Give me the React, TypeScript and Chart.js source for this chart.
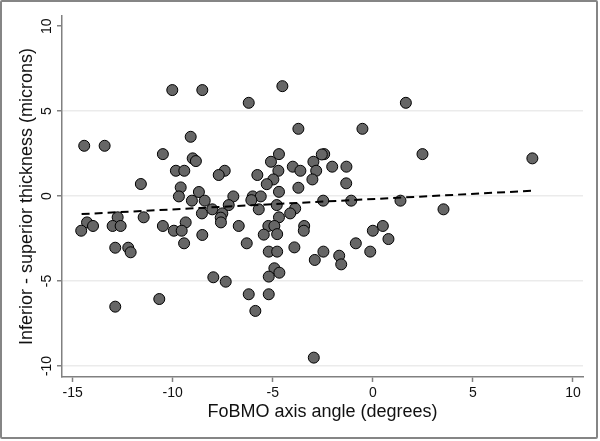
import React, { useEffect, useRef } from "react";
import { Chart, registerables } from "chart.js";

Chart.register(...registerables);

const xValues = [
  -10.02, -8.52, -4.52, -6.2, 1.65, -3.72, -0.52, -9.1, -14.42, -13.4,
  -10.49, 2.48, -4.69, -2.43, -2.55, -9.0, -8.84, 7.97, -5.09, -2.97,
  -4.0, -2.03, -1.32, -9.84, -9.42, -7.4, -4.72, -3.62, -2.83, -7.7,
  -5.77, -4.97, -3.02, -11.59, -5.3, -1.33, -9.6, -3.72, -8.69, -4.69,
  -9.69, -6.97, -6.0, -5.6, -9.04, -8.4, -6.07, -2.48, -1.08, 1.38,
  -7.2, -4.8, -3.88, -8.02, -5.7, 3.53, -8.54, -7.52, -4.13, -12.75,
  -11.45, -7.6, -4.69, -14.28, -9.35, -7.59, -13.98, -13.0, -12.6, -10.49,
  -6.7, -5.22, -4.92, -3.43, 0.5, -14.57, -9.94, -9.55, -3.45, 0.0,
  -8.52, -5.45, -4.78, 0.78, -9.43, -6.3, -0.85, -12.87, -12.22, -3.92,
  -12.1, -5.2, -4.78, -2.47, -0.13, -1.68, -2.9, -1.58, -4.92, -4.67,
  -5.2, -7.97, -7.35, -6.2, -5.2, -10.67, -12.87, -5.87, -2.95,
];

const yValues = [
  6.24, 6.24, 6.47, 5.49, 5.49, 3.96, 3.96, 3.49, 2.96, 2.96,
  2.47, 2.47, 2.47, 2.47, 2.45, 2.22, 2.06, 2.22, 2.02, 2.02,
  1.73, 1.73, 1.73, 1.49, 1.49, 1.49, 1.49, 1.49, 1.49, 1.24,
  1.24, 0.98, 0.98, 0.71, 0.7, 0.75, 0.51, 0.49, 0.24, 0.25,
  -0.02, -0.02, -0.02, -0.02, -0.27, -0.27, -0.24, -0.27, -0.27, -0.27,
  -0.53, -0.53, -0.73, -0.78, -0.78, -0.78, -1.02, -1.02, -1.02, -1.25,
  -1.25, -1.27, -1.25, -1.55, -1.55, -1.55, -1.76, -1.76, -1.76, -1.76,
  -1.76, -1.76, -1.76, -1.76, -1.76, -2.04, -2.04, -2.04, -2.04, -2.04,
  -2.29, -2.27, -2.24, -2.53, -2.78, -2.78, -2.78, -3.04, -3.04, -3.02,
  -3.31, -3.27, -3.27, -3.27, -3.27, -3.51, -3.76, -4.02, -4.25, -4.51,
  -4.74, -4.78, -5.04, -5.78, -5.78, -6.06, -6.51, -6.76, -9.51,
];

const fitX = [-14.55, 7.95];
const fitY = [-1.06, 0.31];

const xTicks = [-15, -10, -5, 0, 5, 10];
const yTicks = [-10, -5, 0, 5, 10];

const xTitle = "FoBMO axis angle (degrees)";
const yTitle = "Inferior - superior thickness (microns)";

export default function App() {
  const canvasRef = useRef<HTMLCanvasElement | null>(null);

  useEffect(() => {
    const canvas = canvasRef.current;
    if (!canvas) return;
    const points = xValues.map((x, i) => ({ x, y: yValues[i] }));
    const fit = fitX.map((x, i) => ({ x, y: fitY[i] }));
    const font = "'Liberation Sans', Arial, Helvetica, sans-serif";

    const chart = new Chart(canvas, {
      type: "scatter",
      data: {
        datasets: [
          {
            type: "line",
            data: fit,
            borderColor: "#000000",
            borderWidth: 2,
            borderDash: [8, 5],
            pointRadius: 0,
            fill: false,
            showLine: true,
          } as any,
          {
            data: points,
            backgroundColor: "#666666",
            borderColor: "#000000",
            borderWidth: 1,
            pointRadius: 5.5,
          },
        ],
      },
      options: {
        animation: false,
        responsive: false,
        maintainAspectRatio: false,
        layout: { padding: { top: 16, right: 17, left: 0, bottom: 0 } },
        plugins: {
          legend: { display: false },
          tooltip: { enabled: false },
        },
        scales: {
          x: {
            type: "linear",
            min: -15.53,
            max: 10.5,
            afterBuildTicks: (scale: any) => {
              scale.ticks = xTicks.map((v) => ({ value: v }));
            },
            afterFit: (scale: any) => {
              scale.height = 64;
            },
            border: { display: true, color: "#808080", width: 1.5 },
            grid: {
              drawOnChartArea: false,
              drawTicks: true,
              tickLength: 5,
              tickColor: "#808080",
              tickWidth: 1.5,
            },
            ticks: {
              color: "#111111",
              font: { family: font, size: 14 },
              padding: 3,
              maxRotation: 0,
              minRotation: 0,
              autoSkip: false,
            },
            title: {
              display: true,
              text: xTitle,
              color: "#111111",
              font: { family: font, size: 18 },
              padding: { top: 0, bottom: 18 },
            },
          },
          y: {
            type: "linear",
            min: -10.65,
            max: 10.6,
            afterBuildTicks: (scale: any) => {
              scale.ticks = yTicks.map((v) => ({ value: v }));
            },
            afterFit: (scale: any) => {
              scale.width = 62;
            },
            border: { display: true, color: "#808080", width: 1.5 },
            grid: {
              drawOnChartArea: true,
              drawTicks: true,
              tickLength: 5,
              tickColor: "#808080",
              tickWidth: 1.5,
              color: (ctx: any) =>
                ctx.tick && ctx.tick.value === 10 ? "rgba(0,0,0,0)" : "#ebebeb",
              lineWidth: 1.5,
            },
            ticks: {
              color: "#111111",
              font: { family: font, size: 14 },
              padding: 0,
              minRotation: 90,
              maxRotation: 90,
              crossAlign: "center",
              autoSkip: false,
            },
            title: {
              display: true,
              text: yTitle,
              color: "#111111",
              font: { family: font, size: 18 },
              padding: { top: 16, bottom: 0 },
            },
          },
        },
      },
    });
    return () => chart.destroy();
  }, []);

  return (
    <div
      style={{
        position: "absolute",
        left: 0,
        top: 0,
        width: 600,
        height: 441,
        background: "#ffffff",
      }}
    >
      <canvas
        ref={canvasRef}
        width={600}
        height={441}
        style={{ position: "absolute", left: 0, top: 0, width: 600, height: 441 }}
      />
      <div
        style={{
          position: "absolute",
          left: 0,
          top: 0,
          width: 598,
          height: 439,
          boxSizing: "border-box",
          border: "2px solid #858585",
          borderRadius: 2,
          pointerEvents: "none",
        }}
      />
    </div>
  );
}
